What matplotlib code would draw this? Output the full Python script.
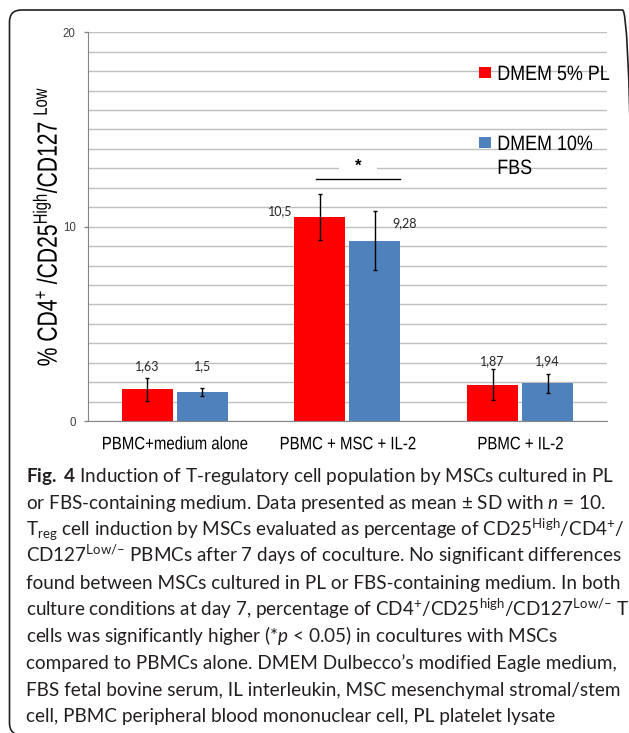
#!/usr/bin/python3
'''
Treg induction bar chart (Fig. 4) - PL vs FBS medium
'''

#------------------
# Import
#------------------

import numpy as np
import matplotlib
matplotlib.use('Agg')
import matplotlib.pyplot as plt
from matplotlib.patches import FancyBboxPatch, Rectangle
from matplotlib.patheffects import AbstractPathEffect
from matplotlib.ticker import MultipleLocator
from matplotlib.transforms import Affine2D

#------------------
# Variables
#------------------

groups = ['PBMC+medium alone', 'PBMC + MSC + IL-2', 'PBMC + IL-2']
series = ['DMEM 5% PL', 'DMEM 10%\nFBS']
pl_mean = [1.63, 10.5, 1.87]
pl_sd = [0.6, 1.2, 0.8]
fbs_mean = [1.5, 9.28, 1.94]
fbs_sd = [0.2, 1.5, 0.5]
colors = ['#FF0000', '#4F81BD']

# value label placement (x shift from bar centre, label centre height)
pl_label_pos = [(0.0, 2.83), (-0.23, 10.82), (0.0, 3.10)]
fbs_label_pos = [(0.0, 2.83), (0.175, 10.2), (0.0, 3.10)]

caption = [
    r'$\mathbf{Fig.\ 4}$ Induction of T-regulatory cell population by MSCs cultured in PL',
    r'or FBS-containing medium. Data presented as mean ± SD with $\mathit{n}$ = 10.',
    r'T$_{\mathsf{reg}}$ cell induction by MSCs evaluated as percentage of CD25$^{\mathsf{High}}$/CD4$^{\mathsf{+}}$/',
    r'CD127$^{\mathsf{Low/–}}$ PBMCs after 7 days of coculture. No significant differences',
    r'found between MSCs cultured in PL or FBS-containing medium. In both',
    r'culture conditions at day 7, percentage of CD4$^{\mathsf{+}}$/CD25$^{\mathsf{high}}$/CD127$^{\mathsf{Low/–}}$ T',
    r'cells was significantly higher (*$\mathit{p}$ < 0.05) in cocultures with MSCs',
    r'compared to PBMCs alone. DMEM Dulbecco’s modified Eagle medium,',
    r'FBS fetal bovine serum, IL interleukin, MSC mesenchymal stromal/stem',
    r'cell, PBMC peripheral blood mononuclear cell, PL platelet lysate',
]

W, H = 629, 733
CHART_FONT = 'Liberation Sans'

#------------------
# Functions
#------------------

def fig_xy(px, py):
    """pixel position (from top-left) -> figure fraction"""
    return px / W, 1 - py / H


class Squeeze(AbstractPathEffect):
    """Narrow a text along its writing direction (the chart export was squeezed)."""

    def __init__(self, factor, anchor='center', vertical=False):
        super().__init__()
        self.factor = factor
        self.anchor = anchor
        self.vertical = vertical

    def draw_path(self, renderer, gc, tpath, affine, rgbFace=None):
        ext = tpath.get_extents(affine)
        if self.vertical:
            cy = (ext.y0 + ext.y1) / 2
            sq = Affine2D().translate(0, -cy).scale(1, self.factor).translate(0, cy)
        else:
            cx = ext.x0 if self.anchor == 'left' else (ext.x0 + ext.x1) / 2
            sq = Affine2D().translate(-cx, 0).scale(self.factor, 1).translate(cx, 0)
        renderer.draw_path(gc, tpath, affine + sq, rgbFace)

#------------------
# Main
#------------------

if __name__ == '__main__':
    plt.rcParams['mathtext.fontset'] = 'custom'
    plt.rcParams['mathtext.rm'] = CHART_FONT
    plt.rcParams['mathtext.sf'] = 'Lato'
    plt.rcParams['mathtext.it'] = 'Lato:italic'
    plt.rcParams['mathtext.bf'] = 'Lato:bold'

    fig = plt.figure(figsize=(W / 100, H / 100), dpi=100)
    ax = fig.add_axes([88.3 / W, 1 - 421 / H, 518.2 / W, 388.7 / H])

    x = np.arange(len(groups))
    width = 0.295
    off = 0.159
    ekw = dict(ecolor='black', elinewidth=1, capsize=1.5, capthick=1)
    ax.bar(x - off, pl_mean, width, color=colors[0], yerr=pl_sd, error_kw=ekw, zorder=2)
    ax.bar(x + off, fbs_mean, width, color=colors[1], yerr=fbs_sd, error_kw=ekw, zorder=2)

    for i in range(len(groups)):
        for xc, v, (dx, ly) in ((x[i] - off, pl_mean[i], pl_label_pos[i]),
                                (x[i] + off, fbs_mean[i], fbs_label_pos[i])):
            ax.text(xc + dx, ly, f'{v:g}'.replace('.', ','), ha='center', va='center',
                    fontfamily='Lato', fontsize=9, color='#262626', zorder=4)

    # significance bar over the MSC group
    ax.plot([0.818, 1.305], [12.43, 12.43], color='black', lw=1, zorder=4)
    ax.add_patch(Rectangle((0.952, 12.6), 0.22, 1.2, facecolor='white', edgecolor='none', zorder=1))
    ax.text(1.06, 12.86, '*', ha='center', va='baseline', fontsize=12, fontweight='bold',
            fontfamily=CHART_FONT, zorder=4)

    ax.set_xlim(-0.5, 2.5)
    ax.set_ylim(0, 20)
    ax.set_yticks([0, 10, 20])
    ax.yaxis.set_minor_locator(MultipleLocator(1))
    ax.grid(axis='y', which='both', color='#BFBFBF', lw=1, zorder=0)
    ax.set_axisbelow(True)
    ax.tick_params(axis='y', which='major', length=3, width=1, color='#868686', pad=6,
                   labelsize=8.3, labelcolor='#404040')
    ax.tick_params(axis='y', which='minor', length=0)
    for t in ax.get_yticklabels():
        t.set_fontfamily(CHART_FONT)
    ax.set_xticks(x, groups, fontfamily=CHART_FONT, fontsize=13)
    for t in ax.get_xticklabels():
        t.set_path_effects([Squeeze(0.83)])
    ax.tick_params(axis='x', length=0, pad=11)
    for s in ('top', 'right'):
        ax.spines[s].set_visible(False)
    for s in ('left', 'bottom'):
        ax.spines[s].set_color('#868686')

    ylab = ax.set_ylabel(r'% CD4$^{\mathrm{+}}$ /CD25$^{\mathrm{High}}$/CD127 $^{\mathrm{Low}}$',
                         fontfamily=CHART_FONT, fontsize=20)
    ylab.set_path_effects([Squeeze(0.76, vertical=True)])
    ax.yaxis.set_label_coords(-0.049, 0.5)

    # legend drawn by hand: second entry wraps onto two lines
    leg_rows = [(78, 80), (148, 150)]
    for (sq_bottom, base), name, c in zip(leg_rows, series, colors):
        fig.patches.append(Rectangle(fig_xy(479, sq_bottom), 12 / W, 11 / H,
                                     transform=fig.transFigure, facecolor=c, edgecolor='none'))
        for k, part in enumerate(name.split('\n')):
            fig.text(*fig_xy(497, base + 24 * k), part, va='baseline', ha='left',
                     fontfamily=CHART_FONT, fontsize=15,
                     path_effects=[Squeeze(0.86, anchor='left')])

    # caption
    for k, line in enumerate(caption):
        fig.text(*fig_xy(26, 482 + 26.7 * k), line, va='baseline', ha='left',
                 fontfamily='Lato', fontsize=13.6, color='#231F20')

    # rounded frame around the figure (right and bottom sides fall off the page)
    frame = FancyBboxPatch((0.095, -0.02), 6.25, 7.25,
                           boxstyle='round,pad=0,rounding_size=0.12',
                           transform=fig.dpi_scale_trans, facecolor='none',
                           edgecolor='#231F20', lw=1.2)
    fig.patches.append(frame)

    fig.savefig('out.png', dpi=100)
